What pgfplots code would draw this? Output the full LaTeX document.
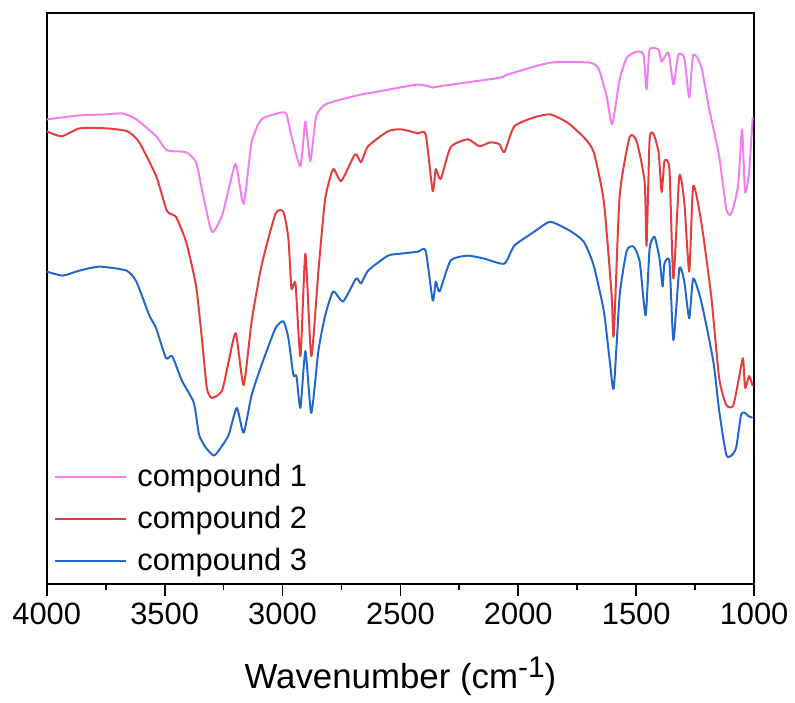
\documentclass[border=0pt]{standalone}
\usepackage{pgfplots}
\pgfplotsset{compat=1.18}
\usepackage{fontspec}
\setmainfont{Liberation Sans}

\definecolor{cpink}{RGB}{242,125,240}
\definecolor{cred}{RGB}{228,62,60}
\definecolor{cblue}{RGB}{34,104,204}

% y values are read off the picture top-down, so the y axis runs reversed
\pgfplotstableread{
w y
4000 120
3861 116
3747 115
3679 114
3620 120
3536 137
3490 151
3409 153
3367 163
3342 190
3300 233
3257 217
3228 190
3198 165
3165 205
3131 143
3089 120
3004 113
2983 115
2962 137
2924 167
2903 122
2882 162
2857 117
2819 105
2751 100
2667 95
2595 92
2426 85
2363 88
2342 87
2076 78
2047 75
1865 63
1696 63
1658 70
1625 97
1602 125
1570 80
1540 58
1498 52
1469 55
1456 90
1443 50
1405 50
1392 62
1363 53
1342 85
1321 55
1296 58
1275 98
1258 55
1224 67
1190 110
1148 157
1118 210
1097 215
1068 187
1051 130
1038 193
1021 173
1006 118
}\compA

\pgfplotstableread{
w y
4000 132
3937 137
3861 129
3747 129
3658 132
3608 143
3536 177
3490 212
3452 218
3409 243
3367 287
3342 340
3321 390
3300 400
3257 393
3228 363
3198 335
3165 387
3131 323
3089 267
3030 215
2996 213
2975 240
2962 290
2945 285
2924 358
2903 255
2878 358
2848 273
2819 200
2785 170
2751 182
2692 155
2667 163
2637 147
2553 132
2498 130
2426 134
2393 135
2363 192
2350 170
2329 180
2287 148
2215 140
2165 147
2118 143
2080 145
2059 153
2017 127
1933 118
1865 115
1793 123
1722 138
1680 153
1637 203
1604 297
1595 337
1570 197
1528 138
1498 142
1464 183
1456 247
1443 140
1426 135
1405 153
1392 193
1380 162
1359 170
1342 280
1317 177
1296 203
1275 273
1258 187
1224 223
1182 297
1148 380
1118 407
1089 408
1064 380
1047 360
1038 390
1021 378
1006 388
}\compB

\pgfplotstableread{
w y
4000 273
3932 277
3861 272
3776 268
3662 272
3620 283
3565 317
3536 330
3494 360
3468 358
3426 383
3376 405
3354 437
3325 450
3291 458
3262 450
3228 437
3194 410
3165 435
3131 397
3089 367
3030 330
2996 323
2975 340
2954 377
2941 378
2924 410
2903 353
2878 415
2848 353
2819 317
2785 293
2743 303
2688 280
2667 285
2637 272
2553 257
2498 255
2426 253
2393 252
2363 302
2350 283
2334 293
2287 262
2215 257
2144 260
2059 265
2017 247
1933 233
1865 223
1781 232
1722 243
1680 267
1637 313
1612 363
1595 390
1570 297
1540 252
1511 248
1485 263
1460 317
1443 250
1422 238
1401 260
1388 288
1380 265
1359 263
1342 342
1317 270
1296 283
1275 320
1258 280
1224 303
1173 363
1148 413
1118 457
1097 458
1076 450
1055 417
1038 415
1026 418
1006 420
}\compC

\begin{document}
\begin{tikzpicture}
\begin{axis}[
  scale only axis,
  width=355.5pt, height=287pt,
  x dir=reverse, y dir=reverse,
  xmin=1000, xmax=4000,
  ymin=13, ymax=587,
  xtick={1000,1500,...,4000},
  minor x tick num=1,
  xtick pos=bottom,
  tick align=outside,
  major tick length=6pt,
  minor tick length=3pt,
  ytick=\empty,
  axis line style={line width=0.9pt},
  every tick/.style={line width=0.9pt, black},
  /pgf/number format/assume math mode=true,
  /pgf/number format/1000 sep={},
  tick label style={font=\fontsize{15.5}{18}\selectfont},
  xlabel={Wavenumber (cm\raisebox{5.5pt}{\fontsize{15}{17}\selectfont -1})},
  xlabel style={font=\fontsize{17.5}{20}\selectfont, at={(axis description cs:0.5,0)}, anchor=base, yshift=-52.5pt},
  legend cell align=left,
  legend style={at={(0.001,0.003)}, anchor=south west, draw=none, fill=none,
    font=\fontsize{15.5}{18}\selectfont, row sep=4.5pt,
    /tikz/every even column/.append style={column sep=0pt}},
  legend image code/.code={\draw[#1] (0pt,0pt) -- (36pt,0pt); \path (39pt,0pt);},
  every axis plot/.append style={line width=1pt, line join=round, smooth, tension=0.35},
]
\addplot[cpink] table[x=w, y=y] {\compA};
\addlegendentry{compound 1}
\addplot[cred] table[x=w, y=y] {\compB};
\addlegendentry{compound 2}
\addplot[cblue] table[x=w, y=y] {\compC};
\addlegendentry{compound 3}
\end{axis}
\path (current axis.south west) ++(-23.5pt,-56pt);
\path (current axis.north east) ++(18.5pt,6.5pt);
\end{tikzpicture}
\end{document}
